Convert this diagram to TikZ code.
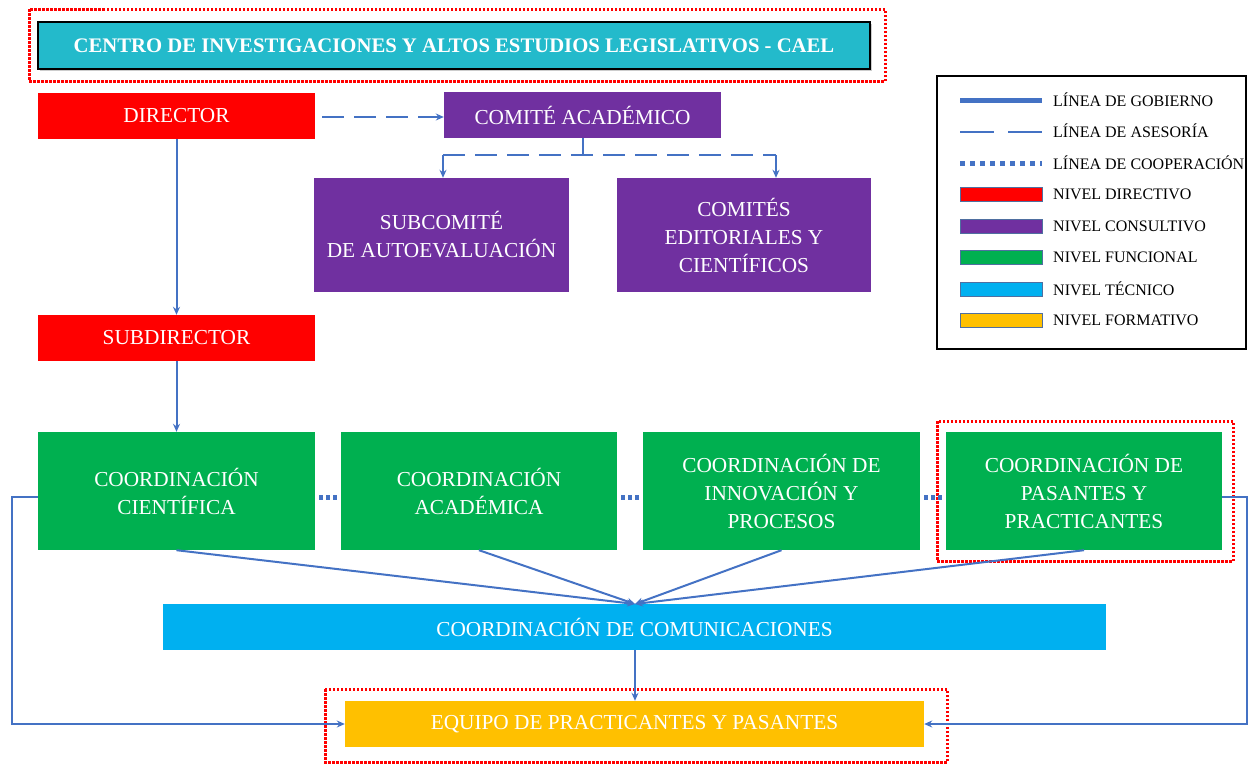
\documentclass[tikz,border=0pt]{standalone}
\usepackage{fontspec}
\setmainfont{Liberation Serif}
\usetikzlibrary{arrows.meta,shadows}
\definecolor{lblue}{HTML}{4472C4}
\definecolor{ttl}{HTML}{23BACB}
\definecolor{dirred}{HTML}{FF0000}
\definecolor{purp}{HTML}{7030A0}
\definecolor{grn}{HTML}{00B050}
\definecolor{cyn}{HTML}{00B0F0}
\definecolor{yel}{HTML}{FFC000}
\definecolor{lgb}{HTML}{4F6FA0}
\tikzset{
  box/.style={draw=none, text=white, align=center, inner sep=0pt, font=\fontsize{21.3}{28}\selectfont},
  tip/.style={-{Stealth[length=8pt,width=7pt]}},
  gov/.style={draw=lblue, line width=2pt, tip},
  govl/.style={draw=lblue, line width=2pt},
  adv/.style={draw=lblue, line width=2pt, dash pattern=on 22pt off 10pt},
  coop/.style={draw=lblue, line width=5pt, dash pattern=on 4pt off 3pt},
  redframe/.style={draw=dirred, line width=3pt, dash pattern=on 2.5pt off 1.5pt},
  legtxt/.style={anchor=west, font=\fontsize{16}{18}\selectfont, inner sep=0pt},
  legbox/.style={draw=lgb, line width=1pt, minimum width=82pt, minimum height=14pt, inner sep=0pt}
}
\begin{document}
\begin{tikzpicture}[x=1pt,y=-1pt]
\useasboundingbox (0,0) rectangle (1248,764);
% red frames
\draw[redframe] (29,9) rectangle (885,81);
\draw[redframe] (937,421) rectangle (1233,561);
\draw[redframe] (325,689) rectangle (947,762);
% title
\node[draw=black, line width=2.5pt, fill=ttl, drop shadow={shadow xshift=2pt, shadow yshift=-2pt, opacity=0.4},
  minimum width=832pt, minimum height=47pt, inner sep=0pt, text=white,
  font=\bfseries\fontsize{20.7}{22}\selectfont] (title) at (454,45.5) {CENTRO DE INVESTIGACIONES Y ALTOS ESTUDIOS LEGISLATIVOS - CAEL};
% top nodes
\node[box, fill=dirred, minimum width=277pt, minimum height=46pt] (dir) at (176.5,116) {\raisebox{-2pt}{DIRECTOR}};
\node[box, fill=purp, minimum width=277pt, minimum height=46pt] (com) at (582.5,115) {COMITÉ ACADÉMICO};
\node[box, fill=purp, minimum width=255pt, minimum height=114pt] (sub) at (441.5,235) {SUBCOMITÉ\\DE AUTOEVALUACIÓN};
\node[box, fill=purp, minimum width=254pt, minimum height=114pt] (edi) at (744,235) {COMITÉS\\EDITORIALES Y\\CIENTÍFICOS};
\node[box, fill=dirred, minimum width=277pt, minimum height=46pt] (subd) at (176.5,338) {\raisebox{-2pt}{SUBDIRECTOR}};
% green
\node[box, fill=grn, minimum width=277pt, minimum height=118pt] (c1) at (176.5,491) {COORDINACIÓN\\CIENTÍFICA};
\node[box, fill=grn, minimum width=276pt, minimum height=118pt] (c2) at (479,491) {COORDINACIÓN\\ACADÉMICA};
\node[box, fill=grn, minimum width=277pt, minimum height=118pt] (c3) at (781.5,491) {COORDINACIÓN DE\\INNOVACIÓN Y\\PROCESOS};
\node[box, fill=grn, minimum width=276pt, minimum height=118pt] (c4) at (1084,491) {COORDINACIÓN DE\\PASANTES Y\\PRACTICANTES};
\node[box, fill=cyn, minimum width=943pt, minimum height=46pt] (comu) at (634.5,627) {COORDINACIÓN DE COMUNICACIONES};
\node[box, fill=yel, minimum width=579pt, minimum height=46pt] (eq) at (634.5,724) {\raisebox{-2pt}{EQUIPO DE PRACTICANTES Y PASANTES}};
% connectors
\coordinate (dA) at (322,117);
\draw[adv, tip] (dA) -- (dA -| com.west);
\coordinate (cm) at (583,155);
\draw[govl] (com.south -| cm) -- (cm);
\draw[adv] (443,155) -- (776,155);
\draw[gov] (443,155) -- (sub.north -| 443,0);
\draw[gov] (776,155) -- (edi.north -| 776,0);
\draw[gov] (dir.south) -- (subd.north);
\draw[gov] (subd.south) -- (c1.north);
\coordinate (hub) at (635,604);
\draw[gov] (c1.south) -- (hub);
\draw[gov] (c2.south) -- (hub);
\draw[gov] (c3.south) -- (hub);
\draw[gov] (c4.south) -- (hub);
\draw[gov] (comu.south -| hub) -- (eq.north -| hub);
\coordinate (lc) at (12,497);
\coordinate (rc) at (1246.5,497);
\draw[gov] (c1.west |- lc) -- (lc) |- (eq.west);
\draw[gov] (c4.east |- rc) -- (rc) |- (eq.east);
% cooperation
\draw[coop] (319,497) -- (337,497);
\draw[coop] (621,497) -- (639,497);
\draw[coop] (924,497) -- (942,497);
% legend
\node[draw=black, line width=1.5pt, minimum width=309pt, minimum height=273pt, inner sep=0pt] (leg) at (1091.5,212.5) {};
\draw[draw=lblue, line width=5pt] (960,100) -- (1042,100);
\draw[draw=lblue, line width=2.5pt, dash pattern=on 34pt off 14pt] (960,132) -- (1042,132);
\draw[draw=lblue, line width=5pt, dash pattern=on 5pt off 5pt] (960,163) -- (1042,163);
\node[legbox, fill=dirred] (l1) at (1001,194) {};
\node[legbox, fill=purp] (l2) at (1001,226) {};
\node[legbox, fill=grn] (l3) at (1001,257) {};
\node[legbox, fill=cyn] (l4) at (1001,289) {};
\node[legbox, fill=yel] (l5) at (1001,320) {};
\node[legtxt] (t1) at (1053,100) {LÍNEA DE GOBIERNO};
\node[legtxt] (t2) at (1053,131) {LÍNEA DE ASESORÍA};
\node[legtxt] (t3) at (1053,163) {LÍNEA DE COOPERACIÓN};
\node[legtxt] (t4) at (1053,194) {NIVEL DIRECTIVO};
\node[legtxt] (t5) at (1053,226) {NIVEL CONSULTIVO};
\node[legtxt] (t6) at (1053,257) {NIVEL FUNCIONAL};
\node[legtxt] (t7) at (1053,289) {NIVEL TÉCNICO};
\node[legtxt] (t8) at (1053,320) {NIVEL FORMATIVO};
\end{tikzpicture}
\end{document}
